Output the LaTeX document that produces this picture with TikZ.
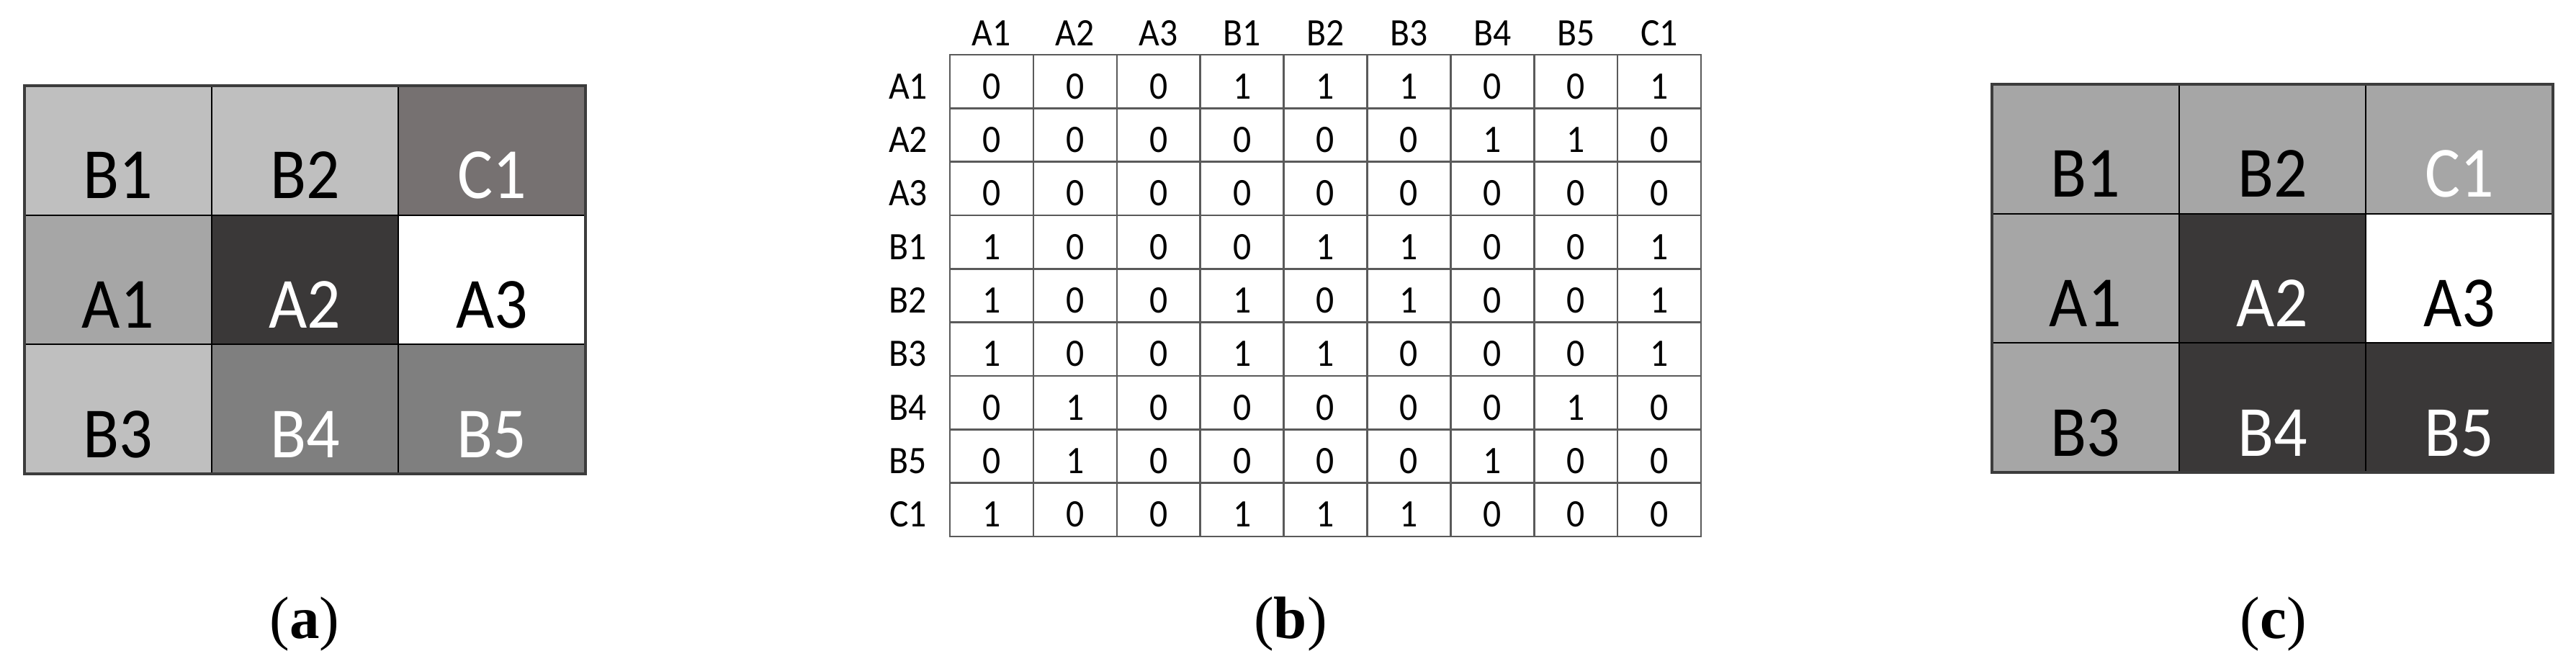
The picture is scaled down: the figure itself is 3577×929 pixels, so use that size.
\documentclass[tikz,border=0pt]{standalone}
\usepackage{fontspec}
\setmainfont{Liberation Serif}
\newfontfamily\cellfont[FakeStretch=0.92]{Carlito}
\definecolor{lg}{HTML}{BFBFBF}
\definecolor{mg}{HTML}{A6A6A6}
\definecolor{bg}{HTML}{767171}
\definecolor{dg}{HTML}{3A3838}
\definecolor{g5}{HTML}{7F7F7F}
\definecolor{frame}{HTML}{3C3C3C}
\definecolor{mline}{HTML}{5A5A5A}
\begin{document}
\begin{tikzpicture}[x=1pt,y=-1pt,
  bigtxt/.style={anchor=base, font=\cellfont\fontsize{100}{100}\selectfont, inner sep=0pt},
  smalltxt/.style={anchor=base, font=\cellfont\fontsize{54}{54}\selectfont, inner sep=0pt},
  captxt/.style={anchor=base, font=\fontsize{83}{90}\selectfont, inner sep=0pt},
  inner/.style={black, line width=2pt},
  outer/.style={frame, line width=4pt},
  mgrid/.style={mline, line width=2.5pt}]
\useasboundingbox (0,0) rectangle (3577,929);
\fill[white] (0,0) rectangle (3577,929);

% ---------- (a) ----------
\foreach \c/\r/\f/\t/\l in {0/0/lg/black/B1, 1/0/lg/black/B2, 2/0/bg/white/C1,
  0/1/mg/black/A1, 1/1/dg/white/A2, 2/1/white/black/A3,
  0/2/lg/black/B3, 1/2/g5/white/B4, 2/2/g5/white/B5}{
  \fill[fill=\f] ({34+259.67*\c},{119+179.67*\r}) rectangle ++(259.67,179.67);
  \node[bigtxt, text=\t] (a-\l) at ({34+259.67*\c+129.83},{119+179.67*\r+156.7}) {\l};
}
\foreach \i in {1,2}{
  \draw[inner] ({34+259.67*\i},119) -- ({34+259.67*\i},658);
  \draw[inner] (34,{119+179.67*\i}) -- (813,{119+179.67*\i});
}
\draw[outer] (34,119) rectangle (813,658);

% ---------- (c) ----------
\foreach \c/\r/\f/\t/\l in {0/0/mg/black/B1, 1/0/mg/black/B2, 2/0/mg/white/C1,
  0/1/mg/black/A1, 1/1/dg/white/A2, 2/1/white/black/A3,
  0/2/mg/black/B3, 1/2/dg/white/B4, 2/2/dg/white/B5}{
  \fill[fill=\f] ({2766+259.67*\c},{117+179.67*\r}) rectangle ++(259.67,179.67);
  \node[bigtxt, text=\t] (c-\l) at ({2766+259.67*\c+129.83},{117+179.67*\r+156.7}) {\l};
}
\foreach \i in {1,2}{
  \draw[inner] ({2766+259.67*\i},117) -- ({2766+259.67*\i},656);
  \draw[inner] (2766,{117+179.67*\i}) -- (3545,{117+179.67*\i});
}
\draw[outer] (2766,117) rectangle (3545,656);

% ---------- (b) ----------
\foreach \l [count=\i from 0] in {A1,A2,A3,B1,B2,B3,B4,B5,C1}{
  \node[smalltxt] (h-\l) at ({1319+115.89*\i+57.94},63) {\l};
  \node[smalltxt] (r-\l) at (1261,{76+74.33*\i+61.3}) {\l};
}
\foreach \row [count=\r from 0] in {{0,0,0,1,1,1,0,0,1},{0,0,0,0,0,0,1,1,0},{0,0,0,0,0,0,0,0,0},
  {1,0,0,0,1,1,0,0,1},{1,0,0,1,0,1,0,0,1},{1,0,0,1,1,0,0,0,1},
  {0,1,0,0,0,0,0,1,0},{0,1,0,0,0,0,1,0,0},{1,0,0,1,1,1,0,0,0}}{
  \foreach \v [count=\c from 0] in \row{
    \node[smalltxt] (m-\r-\c) at ({1319+115.89*\c+57.94},{76+74.33*\r+61.3}) {\v};
  }
}
\foreach \i in {1,...,8}{
  \draw[mgrid] ({1319+115.89*\i},76) -- ({1319+115.89*\i},745);
  \draw[mgrid] (1319,{76+74.33*\i}) -- (2362,{76+74.33*\i});
}
\draw[mgrid] (1319,76) rectangle (2362,745);

% ---------- captions ----------
\node[captxt] (cap-a) at (423,886) {(\textbf{a})};
\node[captxt] (cap-b) at (1792,886) {(\textbf{b})};
\node[captxt] (cap-c) at (3157,886) {(\textbf{c})};
\end{tikzpicture}
\end{document}
